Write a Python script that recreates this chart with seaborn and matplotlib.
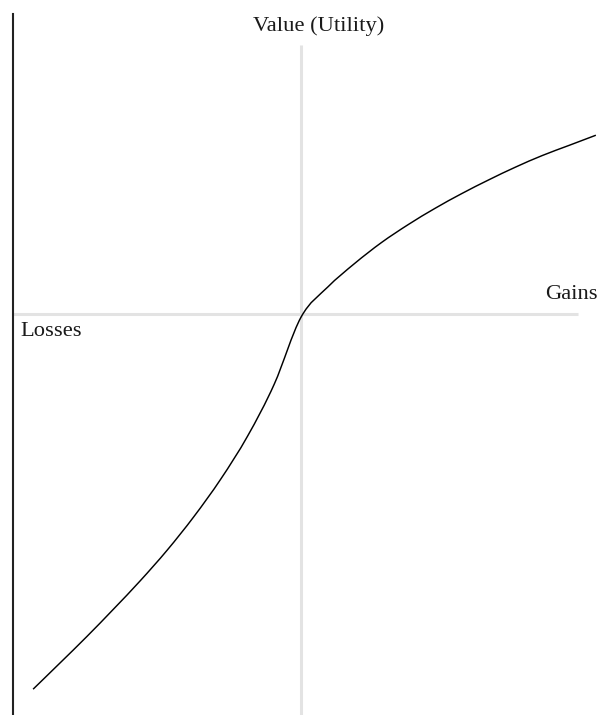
import matplotlib
matplotlib.use("Agg")
import matplotlib.pyplot as plt
from matplotlib.path import Path
from matplotlib.patches import PathPatch
import seaborn as sns
import pandas as pd
import numpy as np

# Outcome (losses < 0 < gains) and subjective value
outcome = [-100, -90, -80, -70, -60, -50, -40, -30, -20, -10, 0,
           10, 20, 30, 40, 50, 60, 70, 80, 90, 100, 110]
value = [-129.4, -120.4, -111.3, -101.8, -92.0, -81.5, -69.9, -57.0, -42.2, -24.2, -1.1,
         9.3, 17.4, 24.6, 30.8, 36.4, 41.5, 46.2, 50.6, 54.6, 58.1, 61.6]

title_text = "Value (Utility)"
gains_label = "Gains"
losses_label = "Losses"

df = pd.DataFrame({"outcome": outcome, "value": value})

sns.set_theme(style="white")
plt.rcParams["font.family"] = ["Liberation Serif", "DejaVu Serif"]

W, H = 598, 715
fig = plt.figure(figsize=(W / 100, H / 100), dpi=100)
fig.patch.set_facecolor("white")
ax = fig.add_axes([13 / W, 0, (W - 13) / W, (H - 14) / H])
ax.set_facecolor("white")

ax.set_xlim(-107.5, 110.8)
ax.set_ylim(-138.3, 103.4)

# light grey reference axes through the origin
ax.vlines(0, -138.3, 92.8, color="#e3e3e3", lw=2.2, zorder=1)
ax.hlines(0, -107.5, 103.4, color="#e3e3e3", lw=2.2, zorder=1)

sns.lineplot(data=df, x="outcome", y="value", ax=ax, color="black",
             lw=1.05, sort=False, zorder=3)

# render the seaborn line as a smooth (Catmull-Rom -> cubic Bezier) curve
line = ax.lines[-1]
pts = np.asarray(line.get_xydata())
line.set_visible(False)
verts = [tuple(pts[0])]
codes = [Path.MOVETO]
n = len(pts)
for i in range(n - 1):
    p0 = pts[i - 1] if i > 0 else pts[i]
    p1 = pts[i]
    p2 = pts[i + 1]
    p3 = pts[i + 2] if i + 2 < n else pts[i + 1]
    c1 = p1 + (p2 - p0) / 6.0
    c2 = p2 - (p3 - p1) / 6.0
    verts += [tuple(c1), tuple(c2), tuple(p2)]
    codes += [Path.CURVE4] * 3
ax.add_patch(PathPatch(Path(verts, codes), facecolor="none",
                       edgecolor="black", lw=1.05, zorder=3,
                       capstyle="butt", joinstyle="round"))

ax.set_xticks([])
ax.set_yticks([])
ax.set_xlabel("")
ax.set_ylabel("")
for side in ["top", "right", "bottom"]:
    ax.spines[side].set_visible(False)
ax.spines["left"].set_color("#222222")
ax.spines["left"].set_linewidth(1.5)

def px(x, y):
    return x / W, 1 - y / H

fig.text(*px(318.5, 31.5), title_text, ha="center", va="baseline",
         fontsize=16.2, color="#1a1a1a")
fig.text(*px(545.5, 299), gains_label, ha="left", va="baseline",
         fontsize=16.2, color="#1a1a1a")
fig.text(*px(20.5, 336.5), losses_label, ha="left", va="baseline",
         fontsize=16.2, color="#1a1a1a")

fig.savefig("out.png", dpi=100)
